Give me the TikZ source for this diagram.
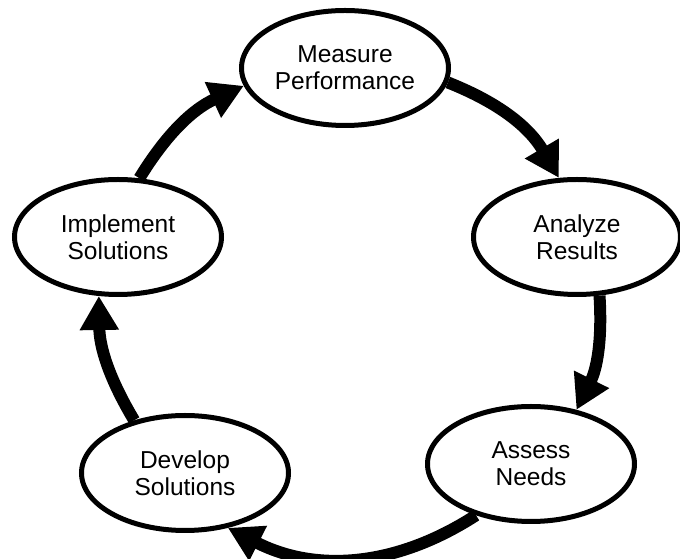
\documentclass[tikz,border=0pt]{standalone}
\usepackage{fontspec}
\setmainfont{Liberation Sans}
\usetikzlibrary{arrows.meta,shapes.geometric}
\begin{document}
\begin{tikzpicture}[x=1pt,y=1pt,
  stage/.style={ellipse, draw, line width=5pt, minimum width=207pt, minimum height=115pt,
    inner sep=0pt, align=center, fill=white, font=\fontsize{24.5}{27}\selectfont},
  flow/.style={line width=12pt, -{Triangle[length=34pt,width=37pt]}}]
\useasboundingbox (0,0) rectangle (680,559);
\node[stage] (mp) at (345,491) {Measure\\Performance};
\node[stage] (ar) at (577,322) {Analyze\\Results};
\node[stage] (an) at (531,95) {Assess\\Needs};
\node[stage] (ds) at (185,86) {Develop\\Solutions};
\node[stage] (is) at (118,322) {Implement\\Solutions};
\draw[flow] (mp.-8) to[bend left=19] (ar.107);
\draw[flow] (ar.-69) to[bend left=15] (an.50);
\draw[flow] (an.223) to[bend left=30] (ds.308);
\draw[flow] (ds.134) to[bend left=15] (is.252);
\draw[flow] (is.70) to[bend left=17] (mp.190);
\end{tikzpicture}
\end{document}
